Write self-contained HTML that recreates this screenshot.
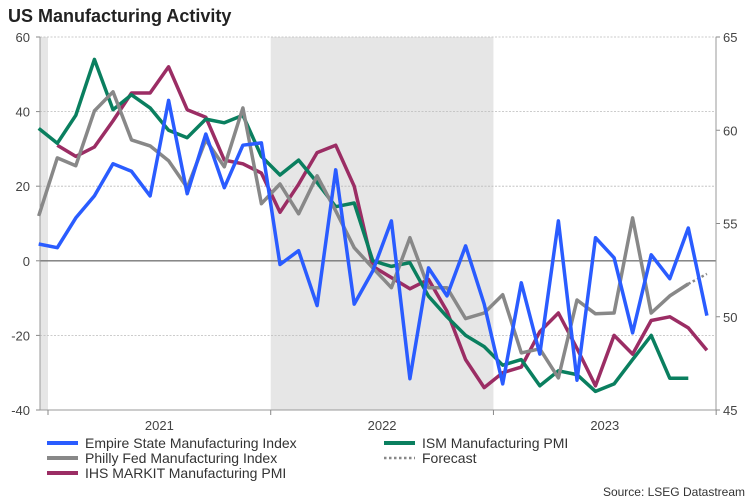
<!DOCTYPE html>
<html><head><meta charset="utf-8"><style>
body{margin:0;background:#fff;}
svg{display:block;font-family:"Liberation Sans",Arial,sans-serif;}
</style></head><body>
<svg id="chart" width="750" height="500" viewBox="0 0 750 500" xmlns="http://www.w3.org/2000/svg">
<text x="8" y="22" font-size="18" font-weight="bold" fill="#222">US Manufacturing Activity</text>
<g id="plot"></g>
<g font-size="14" fill="#333">
<line x1="47" y1="443" x2="78" y2="443" stroke="#2a5cff" stroke-width="4"/>
<text x="85" y="448">Empire State Manufacturing Index</text>
<line x1="47" y1="458" x2="78" y2="458" stroke="#888" stroke-width="4"/>
<text x="85" y="463">Philly Fed Manufacturing Index</text>
<line x1="47" y1="473" x2="78" y2="473" stroke="#9b2d64" stroke-width="4"/>
<text x="85" y="478">IHS MARKIT Manufacturing PMI</text>
<line x1="384" y1="443" x2="415" y2="443" stroke="#0a7f5f" stroke-width="4"/>
<text x="422" y="448">ISM Manufacturing PMI</text>
<line x1="384" y1="458" x2="415" y2="458" stroke="#888" stroke-width="2.5" stroke-dasharray="2.5,2.5"/>
<text x="422" y="463">Forecast</text>
</g>
<text x="745" y="496" font-size="12" fill="#333" text-anchor="end">Source: LSEG Datastream</text>
</svg>
<script>
const years = ["2021","2022","2023"];
const leftTicks = [60,40,20,0,-20,-40];
const rightTicks = [65,60,55,50,45];
const empire = [4.5,3.5,11.5,17.4,26,24,17.4,43,18,34,19.6,31,31.6,-1,2.7,-12,24.4,-11.6,-2.7,10.7,-31.6,-1.9,-9.4,4,-11.6,-33,-5.9,-25,10.7,-32,6.2,0.8,-19.3,1.6,-4.8,8.8,-14.7];
const philly = [12,27.6,25.5,40.2,45.3,32.4,30.8,26.8,19.6,32.4,25.2,41,15.3,20.6,12.6,22.8,13.4,3.5,-1.9,-7.2,6.2,-7.2,-7.2,-15.5,-14,-9.1,-24.7,-23.6,-31.4,-10.5,-14.2,-14,11.5,-14,-9.4,-6.2];
const phillyForecast = [-6.2,-3.5];
const ism = [60.1,59.3,60.8,63.8,61.1,61.9,61.2,60.0,59.6,60.6,60.4,60.8,58.6,57.6,58.4,57.2,55.9,56.1,53.0,52.7,52.9,51.1,50.0,49.0,48.4,47.4,47.7,46.3,47.1,46.9,46.0,46.4,47.7,49.0,46.7,46.7];
const ihs = [null,59.2,58.6,59.1,60.5,62.0,62.0,63.4,61.1,60.7,58.4,58.2,57.7,55.6,57.1,58.8,59.2,57.0,52.7,52.1,51.5,52.0,50.3,47.7,46.2,47.0,47.3,49.2,50.2,48.3,46.3,49.0,48.0,49.8,50.0,49.4,48.2];

const NS="http://www.w3.org/2000/svg";
const g=document.getElementById('plot');
const X0=40,X1=716,Y0=37,Y1=410;
const mw=18.56;
const x=i=>48+mw*(i-0.5);
const yL=v=>Y0+(60-v)*(Y1-Y0)/100;
const yR=v=>Y0+(65-v)*(Y1-Y0)/20;
function mk(t,a){const e=document.createElementNS(NS,t);for(const k in a)e.setAttribute(k,a[k]);g.appendChild(e);return e;}
let e;
e=mk('rect',{x:X0,y:Y0,width:x(0.5)-X0,height:Y1-Y0,fill:'#e6e6e6'});


e=mk('rect',{x:x(12.5),y:Y0,width:x(24.5)-x(12.5),height:Y1-Y0,fill:'#e6e6e6'});


e=mk('rect',{x:x(36.5),y:Y0,width:X1-x(36.5),height:Y1-Y0,fill:'#e6e6e6'});


leftTicks.forEach(v=>{
  if(v!==0&&v!==-40){e=mk('line',{x1:X0,x2:X1,y1:yL(v),y2:yL(v),stroke:'#bbb','stroke-width':0.8,'stroke-dasharray':'2,1.5'});
  
  }
  e=mk('text',{x:30,y:yL(v)+5,'font-size':13,fill:'#444','text-anchor':'end'});e.textContent=v;
  
  
  mk('line',{x1:X0-4,x2:X0,y1:yL(v),y2:yL(v),stroke:'#888'});
});
rightTicks.forEach(v=>{
  e=mk('text',{x:723,y:yR(v)+5,'font-size':13,fill:'#444'});e.textContent=v;
  
  
  mk('line',{x1:X1,x2:X1+4,y1:yR(v),y2:yR(v),stroke:'#888'});
});
e=mk('line',{x1:X0,x2:X1,y1:yL(0),y2:yL(0),stroke:'#777','stroke-width':1.3});


mk('line',{x1:X0,x2:X0,y1:Y0,y2:Y1,stroke:'#999'});
mk('line',{x1:X1,x2:X1,y1:Y0,y2:Y1,stroke:'#999'});
mk('line',{x1:X0,x2:X1,y1:Y1,y2:Y1,stroke:'#999'});
for(let k=0;k<=years.length;k++){mk('line',{x1:x(0.5+12*k),x2:x(0.5+12*k),y1:Y1,y2:Y1+5,stroke:'#888'});}
years.forEach((yr,k)=>{e=mk('text',{x:x(6.5+12*k),y:Y1+20,'font-size':13,fill:'#444','text-anchor':'middle'});e.textContent=yr;
  
  });
function line(arr,yf,color,name,dash){
  let d='';let pen=false;
  arr.forEach((v,i)=>{if(v==null){pen=false;return;}d+=(pen?'L':'M')+x(i).toFixed(1)+','+yf(v).toFixed(1);pen=true;});
  const p=mk('path',{d:d,fill:'none',stroke:color,'stroke-width':dash?2.5:3.5,'stroke-linejoin':'round'});
  if(dash)p.setAttribute('stroke-dasharray',dash);
  return p;
}
const fc=[];phillyForecast.forEach((v,k)=>{fc[philly.length-1+k]=v;});
e=line(ihs,yR,'#9b2d64');


e=line(ism,yR,'#0a7f5f');


e=line(philly,yL,'#888');


e=line(fc,yL,'#888','', '2.5,2.5');


e=line(empire,yL,'#2a5cff');


</script>
</body></html>
